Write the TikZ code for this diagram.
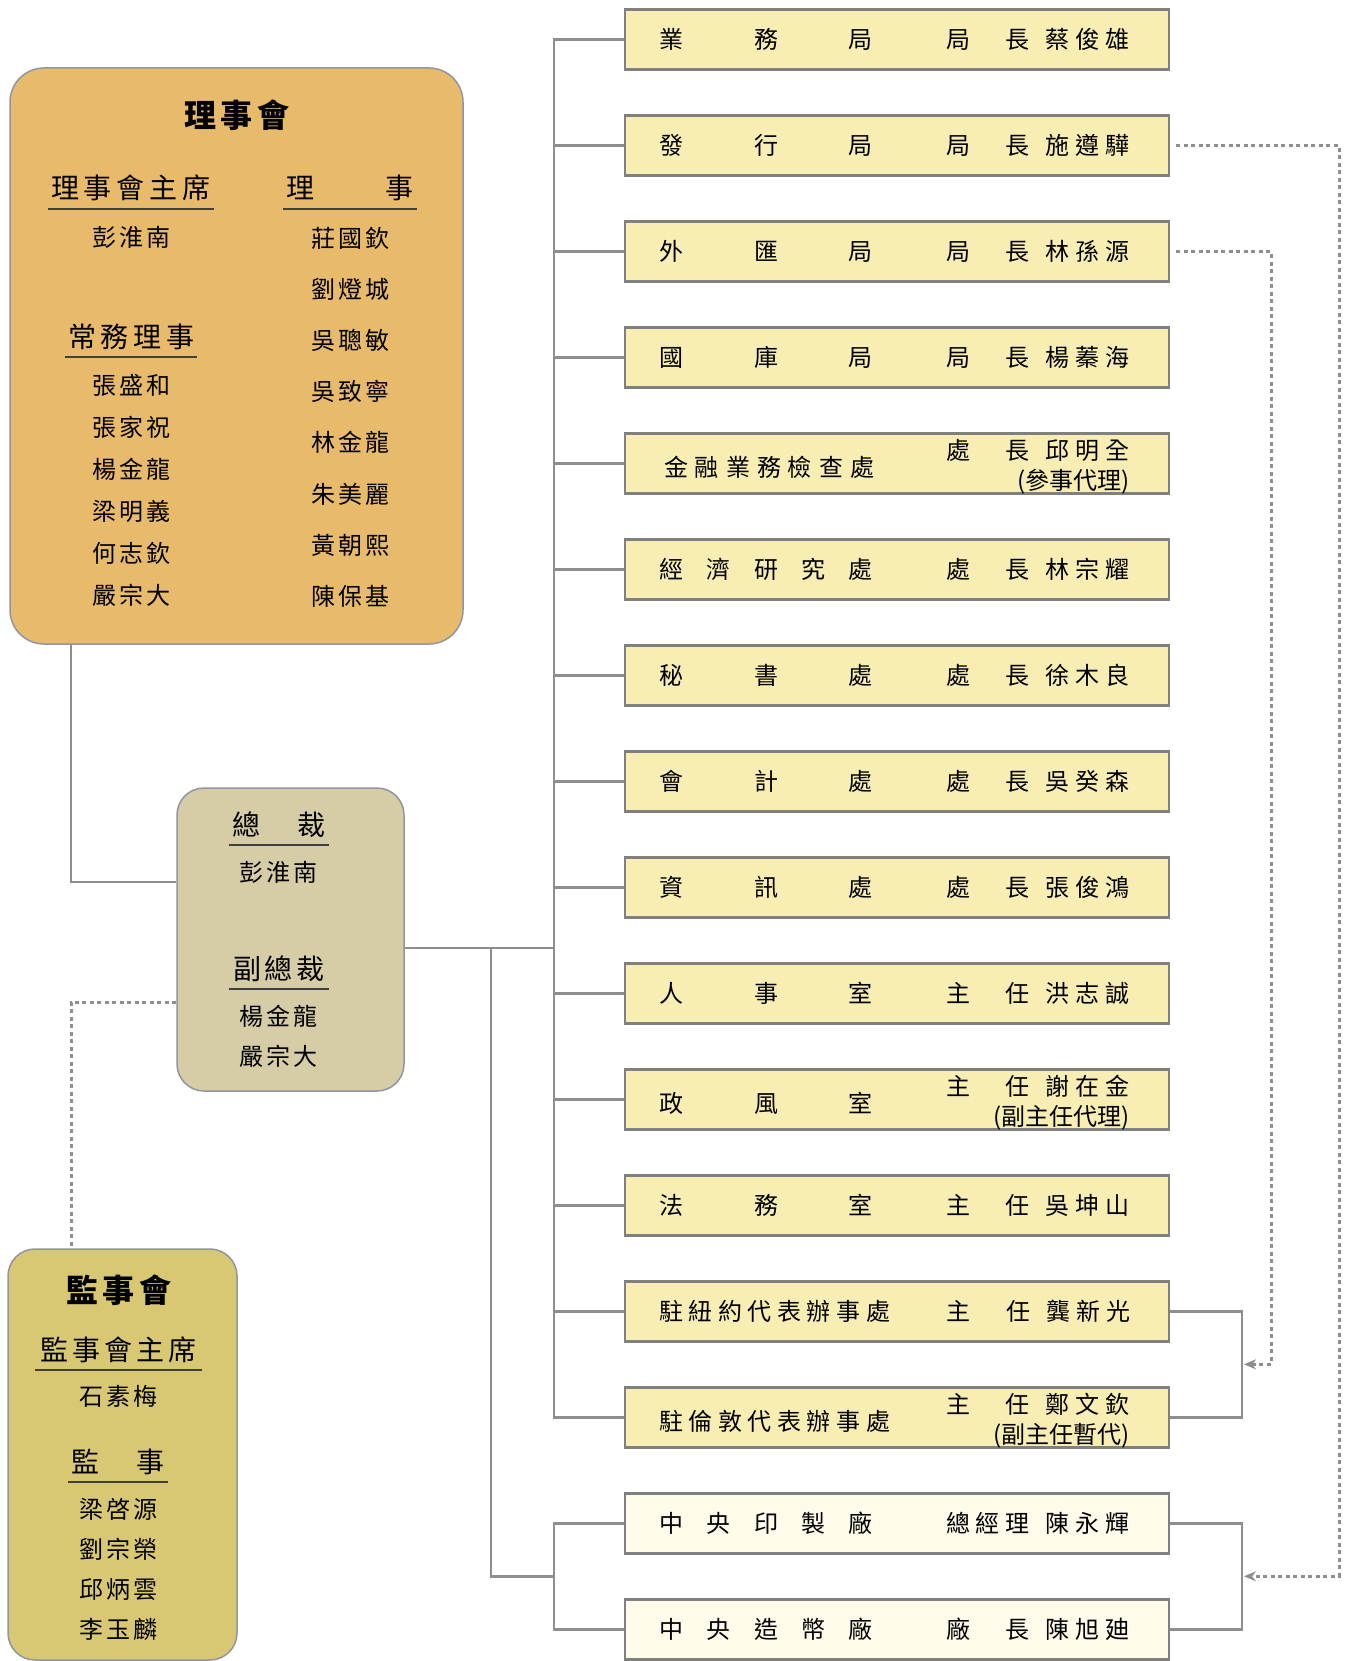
\documentclass[tikz,border=0pt]{standalone}
\usepackage{fontspec}
\setmainfont{Noto Sans CJK TC}
\usetikzlibrary{positioning,arrows.meta}
\definecolor{boardfill}{HTML}{E8BA6C}
\definecolor{presfill}{HTML}{D6CCA5}
\definecolor{supfill}{HTML}{D9C873}
\definecolor{unitfill}{HTML}{F8EDB2}
\definecolor{plantfill}{HTML}{FEFBEA}
\definecolor{unitline}{HTML}{808080}
\definecolor{linkgray}{HTML}{8E8E8E}
\definecolor{councilline}{HTML}{8F96A3}
\makeatletter
% spread the characters of #2 evenly over width #1
\newcommand{\spr}[2]{\edef\spr@list{#2}\makebox[#1]{\let\spr@sep\relax
  \expandafter\spr@loop\spr@list\spr@end}}
\def\spr@loop#1{\ifx#1\spr@end\else\spr@sep#1\let\spr@sep\hfill\expandafter\spr@loop\fi}
\makeatother
\newcommand{\unitrow}[3]{\makebox[544pt][l]{\hspace{34pt}\makebox[214pt][l]{#1}%
  \hspace{73pt}\spr{84pt}{#2}\hspace{16pt}\spr{84pt}{#3}}}
\newcommand{\unitrowii}[4]{\makebox[544pt][l]{\hspace{34pt}\raisebox{-4pt}{\makebox[214pt][l]{#1}}%
  \hspace{73pt}\raisebox{13pt}{\spr{84pt}{#2}\hspace{16pt}\spr{84pt}{#3}}\llap{\raisebox{-17pt}{#4}}}}

\begin{document}
\begin{tikzpicture}[x=1pt,y=-1pt,font=\fontsize{24pt}{28pt}\selectfont,>=Stealth,
  link/.style={draw=linkgray,line width=2.5pt},
  dotlink/.style={draw=linkgray,line width=3pt,dash pattern=on 4pt off 3.5pt},
  unit/.style={draw=unitline,fill=unitfill,line width=2.5pt,minimum width=544pt,
    minimum height=60pt,inner sep=0pt,text height=30pt,text depth=12pt},
  plant/.style={unit,fill=plantfill},
  board/.style={draw=councilline,fill=boardfill,line width=1.5pt,rounded corners=34pt,
    minimum width=453pt,minimum height=576pt},
  presbox/.style={draw=councilline,fill=presfill,line width=1.5pt,rounded corners=27pt,
    minimum width=227pt,minimum height=303pt},
  supbox/.style={draw=councilline,fill=supfill,line width=1.5pt,rounded corners=27pt,
    minimum width=229pt,minimum height=411pt},
  title/.style={font=\fontsize{32pt}{36pt}\selectfont\bfseries,inner sep=0pt},
  hdr/.style={font=\fontsize{28pt}{32pt}\selectfont,text height=24pt,text depth=4pt,
    inner xsep=0pt,inner ysep=6pt},
  uline/.style={draw=black!75,line width=1.5pt},
  who/.style={inner sep=0pt}]
  \useasboundingbox (0,0) rectangle (1350,1661);

  % council boxes
  \node[board] (board) at (236.5,356) {};
  \node[presbox] (pres) at (290.5,939.5) {};
  \node[supbox] (sup) at (122.5,1454.5) {};

  % board members
  \node[title] (boardttl) at (237,115) {\spr{106pt}{理事會}};
  \node[hdr,minimum width=166pt] (chairhd) at (131,189) {\spr{160pt}{理事會主席}};
  \node[who] (chair) at (131,237) {\spr{78pt}{彭淮南}};
  \node[hdr,minimum width=131pt] (stdhd) at (131,337) {\spr{126pt}{常務理事}};
  \foreach \who [count=\i] in {張盛和,張家祝,楊金龍,梁明義,何志欽,嚴宗大}
    \node[who] (std\i) at (131,{385+42.1*(\i-1)}) {\spr{78pt}{\who}};
  \node[hdr,minimum width=133pt] (dirhd) at (350,189) {\spr{127pt}{理事}};
  \foreach \who [count=\i] in {莊國欽,劉燈城,吳聰敏,吳致寧,林金龍,朱美麗,黃朝熙,陳保基}
    \node[who] (dir\i) at (350,{238+51.2*(\i-1)}) {\spr{78pt}{\who}};

  % governor
  \node[hdr,minimum width=100pt] (preshd) at (279,825) {\spr{94pt}{總裁}};
  \node[who] (presname) at (278,872) {\spr{78pt}{彭淮南}};
  \node[hdr,minimum width=100pt] (vicehd) at (279,969) {\spr{92pt}{副總裁}};
  \foreach \who [count=\i] in {楊金龍,嚴宗大}
    \node[who] (vice\i) at (278,{1016+40*(\i-1)}) {\spr{78pt}{\who}};

  % supervisors
  \node[title] (supttl) at (119,1290) {\spr{105pt}{監事會}};
  \node[hdr,minimum width=167pt] (supchairhd) at (118.5,1350) {\spr{157pt}{監事會主席}};
  \node[who] (supchair) at (118,1396) {\spr{78pt}{石素梅}};
  \node[hdr,minimum width=100pt] (supmemhd) at (118,1462) {\spr{93pt}{監事}};
  \foreach \who [count=\i] in {梁啓源,劉宗榮,邱炳雲,李玉麟}
    \node[who] (supmem\i) at (118,{1509+40.3*(\i-1)}) {\spr{78pt}{\who}};

  \foreach \hd in {chairhd,stdhd,dirhd,preshd,vicehd,supchairhd,supmemhd}
    \draw[uline] (\hd.south west) -- (\hd.south east);

  % departments
  \node[unit] (u1) at (897,39.7) {\unitrow{\spr{214pt}{業務局}}{局長}{蔡俊雄}};
  \node[unit] (u2) at (897,145.7) {\unitrow{\spr{214pt}{發行局}}{局長}{施遵驊}};
  \node[unit] (u3) at (897,251.6) {\unitrow{\spr{214pt}{外匯局}}{局長}{林孫源}};
  \node[unit] (u4) at (897,357.6) {\unitrow{\spr{214pt}{國庫局}}{局長}{楊蓁海}};
  \node[unit] (u5) at (897,463.6) {\unitrowii{\hspace{5pt}\spr{210pt}{金融業務檢查處}}{處長}{邱明全}{(參事代理)}};
  \node[unit] (u6) at (897,569.6) {\unitrow{\spr{214pt}{經濟研究處}}{處長}{林宗耀}};
  \node[unit] (u7) at (897,675.5) {\unitrow{\spr{214pt}{秘書處}}{處長}{徐木良}};
  \node[unit] (u8) at (897,781.5) {\unitrow{\spr{214pt}{會計處}}{處長}{吳癸森}};
  \node[unit] (u9) at (897,887.5) {\unitrow{\spr{214pt}{資訊處}}{處長}{張俊鴻}};
  \node[unit] (u10) at (897,993.4) {\unitrow{\spr{214pt}{人事室}}{主任}{洪志誠}};
  \node[unit] (u11) at (897,1099.4) {\unitrowii{\spr{214pt}{政風室}}{主任}{謝在金}{(副主任代理)}};
  \node[unit] (u12) at (897,1205.4) {\unitrow{\spr{214pt}{法務室}}{主任}{吳坤山}};
  \node[unit] (u13) at (897,1311.3) {\unitrow{\spr{231pt}{駐紐約代表辦事處}}{主任}{龔新光}};
  \node[unit] (u14) at (897,1417.3) {\unitrowii{\spr{231pt}{駐倫敦代表辦事處}}{主任}{鄭文欽}{(副主任暫代)}};
  \node[plant] (u15) at (897,1523.3) {\unitrow{\spr{214pt}{中央印製廠}}{總經理}{陳永輝}};
  \node[plant] (u16) at (897,1629.3) {\unitrow{\spr{214pt}{中央造幣廠}}{廠長}{陳旭廸}};

  % joints
  \coordinate (spine) at (554,948);
  \coordinate (fork) at (491,948);
  \coordinate (plantjoin) at (554,1576.3);
  \coordinate (bjoin) at (71,882);
  \coordinate (sjoin) at (71,1002);
  \coordinate (rbr) at (1242,1364.3);
  \coordinate (rbr2) at (1242,1576.3);
  \coordinate (fxturn) at (1271,0);
  \coordinate (issturn) at (1339,0);

  % solid lines
  \draw[link] (board.south -| bjoin) |- (pres.west |- bjoin);
  \draw[link] (pres.east |- spine) -- (spine);
  \draw[link] (u1.west) -| (u14.west -| spine) -- (u14.west);
  \foreach \i in {2,...,13}
    \draw[link] (u\i.west) -- (u\i.west -| spine);
  \draw[link] (fork) |- (plantjoin);
  \draw[link] (u15.west) -| (plantjoin) |- (u16.west);
  \draw[link] (u13.east) -| (rbr) |- (u14.east);
  \draw[link] (u15.east) -| (rbr2) |- (u16.east);

  % dashed lines
  \draw[dotlink] (pres.west |- sjoin) -| (sup.north -| sjoin);
  \draw[dotlink,->,>={Stealth[length=12pt,width=10pt]},shorten <=6pt,shorten >=2pt]
    (u2.east) -| (issturn |- rbr2) -- (rbr2);
  \draw[dotlink,->,>={Stealth[length=12pt,width=10pt]},shorten <=6pt,shorten >=2pt]
    (u3.east) -| (fxturn |- rbr) -- (rbr);
\end{tikzpicture}
\end{document}
